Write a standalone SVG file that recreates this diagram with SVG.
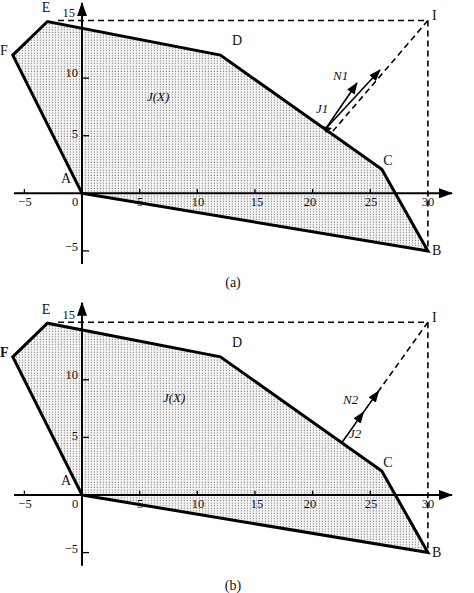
<svg xmlns="http://www.w3.org/2000/svg" width="474" height="593" viewBox="0 0 474 593">
<style>
text{font-family:"Liberation Serif","Times New Roman",serif;fill:#111}
.lbl{font-size:14px}
.num{font-size:12.5px}
.it{font-size:13px;font-style:italic}
.region{fill:url(#dots);stroke:#000;stroke-width:3;stroke-linejoin:miter}
.axis{stroke:#000;stroke-width:2;fill:none}
.tick{stroke:#000;stroke-width:1.3}
.dash{stroke:#000;stroke-width:1.6;stroke-dasharray:6,4;fill:none}
.arr{stroke:#000;stroke-width:1.6;fill:none}
</style>
<defs>
<pattern id="dots" width="3" height="2.6" patternUnits="userSpaceOnUse">
<rect width="3" height="2.6" fill="#f6f6f6"/>
<rect x="0.8" y="0.6" width="1.1" height="1.1" fill="#7a7a7a"/>
</pattern>
<marker id="axh" viewBox="0 0 14 10" refX="13" refY="5" markerWidth="14" markerHeight="10" markerUnits="userSpaceOnUse" orient="auto"><path d="M0,0 L14,5 L0,10 z" fill="#000"/></marker>
<marker id="ah" viewBox="0 0 12 9" refX="11" refY="4.5" markerWidth="12" markerHeight="9" markerUnits="userSpaceOnUse" orient="auto"><path d="M0,0 L12,4.5 L0,9 z" fill="#000"/></marker>
</defs>

<g id="panel-a">
<g id="region-a">
<polygon class="region" points="82,193.3 427.9,250.9 381.8,169.3 220.4,55.1 47.4,21.5 12.8,55.1"/>
<text class="it" x="147" y="101">J(X)</text>
</g>
<g id="axes-a">
<line class="axis" x1="14" y1="193.3" x2="452" y2="193.3" marker-end="url(#axh)"/>
<line class="axis" x1="82" y1="264" x2="82" y2="3" marker-end="url(#axh)"/>
<line class="tick" x1="24.4" y1="193" x2="24.4" y2="189"/>
<line class="tick" x1="139.7" y1="193" x2="139.7" y2="189"/>
<line class="tick" x1="197.3" y1="193" x2="197.3" y2="189"/>
<line class="tick" x1="255" y1="193" x2="255" y2="189"/>
<line class="tick" x1="312.6" y1="193" x2="312.6" y2="189"/>
<line class="tick" x1="370.3" y1="193" x2="370.3" y2="189"/>
<line class="tick" x1="82" y1="78.1" x2="89" y2="78.1"/>
<line class="tick" x1="82" y1="135.7" x2="89" y2="135.7"/>
<line class="tick" x1="82" y1="250.9" x2="89" y2="250.9"/>
<g class="num">
<text x="25" y="206" text-anchor="middle">−5</text>
<text x="75" y="206" text-anchor="middle">0</text>
<text x="140" y="206" text-anchor="middle">5</text>
<text x="198" y="206" text-anchor="middle">10</text>
<text x="257" y="206" text-anchor="middle">15</text>
<text x="310" y="206" text-anchor="middle">20</text>
<text x="371" y="206" text-anchor="middle">25</text>
<text x="428" y="206" text-anchor="middle">30</text>
<text x="75" y="17" text-anchor="end">15</text>
<text x="78" y="77" text-anchor="end">10</text>
<text x="78" y="138" text-anchor="end">5</text>
<text x="78" y="251" text-anchor="end">−5</text>
</g>
</g>
<g id="vertices-a">
<g id="A-a"><text class="lbl" x="66" y="183" text-anchor="middle">A</text></g>
<g id="B-a"><text class="lbl" x="432" y="255">B</text></g>
<g id="C-a"><text class="lbl" x="388" y="165" text-anchor="middle">C</text></g>
<g id="D-a"><text class="lbl" x="237" y="45" text-anchor="middle">D</text></g>
<g id="E-a"><text class="lbl" x="46" y="12" text-anchor="middle" font-size="13">E</text></g>
<g id="F-a"><text class="lbl" x="0" y="55">F</text></g>
<g id="I-a"><text class="lbl" x="432" y="20">I</text></g>
</g>
<g id="connectors-a">
<polyline class="dash" points="58,20.5 427.9,20.5 427.9,250.9"/>
<line class="dash" x1="427.9" y1="20.5" x2="333" y2="131"/>
<line class="arr" x1="325.5" y1="129" x2="380" y2="70" marker-end="url(#ah)"/>
<line class="arr" x1="325.5" y1="129" x2="357" y2="83" marker-end="url(#ah)"/>
<polygon points="322,126 332,128 326,133" fill="#000"/>
<text class="it" x="333" y="80">N1</text>
<text class="it" x="316" y="113">J1</text>
</g>
<text class="lbl" x="233" y="287" text-anchor="middle">(a)</text>
</g>

<g id="panel-b" transform="translate(0,301.7)">
<g id="region-b">
<polygon class="region" points="82,193.3 427.9,250.9 381.8,169.3 220.4,55.1 47.4,21.5 12.8,55.1"/>
<text class="it" x="163" y="100">J(X)</text>
</g>
<g id="axes-b">
<line class="axis" x1="14" y1="193.3" x2="452" y2="193.3" marker-end="url(#axh)"/>
<line class="axis" x1="82" y1="264" x2="82" y2="1" marker-end="url(#axh)"/>
<line class="tick" x1="24.4" y1="193" x2="24.4" y2="189"/>
<line class="tick" x1="139.7" y1="193" x2="139.7" y2="189"/>
<line class="tick" x1="197.3" y1="193" x2="197.3" y2="189"/>
<line class="tick" x1="255" y1="193" x2="255" y2="189"/>
<line class="tick" x1="312.6" y1="193" x2="312.6" y2="189"/>
<line class="tick" x1="370.3" y1="193" x2="370.3" y2="189"/>
<line class="tick" x1="82" y1="78.1" x2="89" y2="78.1"/>
<line class="tick" x1="82" y1="135.7" x2="89" y2="135.7"/>
<line class="tick" x1="82" y1="250.9" x2="89" y2="250.9"/>
<g class="num">
<text x="25" y="206" text-anchor="middle">−5</text>
<text x="75" y="206" text-anchor="middle">0</text>
<text x="140" y="206" text-anchor="middle">5</text>
<text x="198" y="206" text-anchor="middle">10</text>
<text x="257" y="206" text-anchor="middle">15</text>
<text x="310" y="206" text-anchor="middle">20</text>
<text x="371" y="206" text-anchor="middle">25</text>
<text x="428" y="206" text-anchor="middle">30</text>
<text x="75" y="17" text-anchor="end">15</text>
<text x="78" y="77" text-anchor="end">10</text>
<text x="78" y="138" text-anchor="end">5</text>
<text x="78" y="251" text-anchor="end">−5</text>
</g>
</g>
<g id="vertices-b">
<g id="A-b"><text class="lbl" x="66" y="183" text-anchor="middle">A</text></g>
<g id="B-b"><text class="lbl" x="432" y="255">B</text></g>
<g id="C-b"><text class="lbl" x="388" y="165" text-anchor="middle">C</text></g>
<g id="D-b"><text class="lbl" x="237" y="45" text-anchor="middle">D</text></g>
<g id="E-b"><text class="lbl" x="46" y="12" text-anchor="middle">E</text></g>
<g id="F-b"><text class="lbl" x="0" y="55" font-weight="bold">F</text></g>
<g id="I-b"><text class="lbl" x="432" y="20">I</text></g>
</g>
<g id="connectors-b">
<polyline class="dash" points="58,20.5 427.9,20.5 427.9,250.9"/>
<line class="dash" x1="427.9" y1="20.5" x2="378.6" y2="89.3"/>
<path class="arr" d="M341.4,141.5 L363.5,110.4 L378.6,89.3" marker-mid="url(#ah)" marker-end="url(#ah)"/>
<text class="it" x="343" y="102">N2</text>
<text class="it" x="349" y="136">J2</text>
</g>
<text class="lbl" x="233" y="288" text-anchor="middle">(b)</text>
</g>
</svg>
